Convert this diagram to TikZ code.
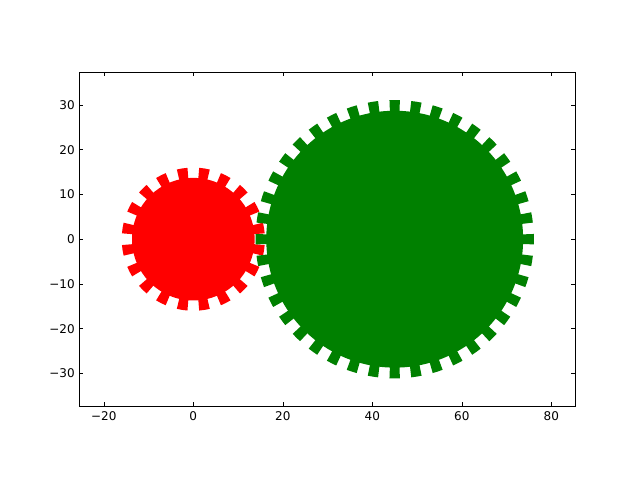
\documentclass[tikz,border=0pt]{standalone}
\usepackage{fontspec}
\setmainfont{DejaVu Sans}
\definecolor{mplred}{RGB}{255,0,0}
\definecolor{mplgreen}{RGB}{0,128,0}
\begin{document}
\begin{tikzpicture}[x=4.475pt,y=4.475pt,
  font=\fontsize{12}{14}\selectfont,
  frame/.style={line width=1pt, draw=black},
  tickmark/.style={line width=0.6pt, draw=black},
  xlab/.style={anchor=north, inner sep=0pt, yshift=-5.5pt},
  ylab/.style={anchor=east, inner sep=0pt, xshift=-4.5pt},
  redgear/.style={fill=mplred},
  greengear/.style={fill=mplgreen}]
\useasboundingbox (-43.2,-53.81) rectangle (99.82,53.45);
% red gear
\fill[redgear] (0,0) circle[radius=13.7];
\foreach \a in {9,27,...,351}{
  \fill[redgear] (\a-4.3:13.4) -- (\a-4.3:16.0) arc[start angle=\a-4.3, end angle=\a+4.3, radius=16.0]
     -- (\a+4.3:13.4) arc[start angle=\a+4.3, end angle=\a-4.3, radius=13.4] -- cycle;
}
% green gear
\begin{scope}[shift={(45,0)}]
\fill[greengear] (0,0) circle[radius=28.7];
\foreach \a in {0,9,...,351}{
  \fill[greengear] (\a-2.15:28.4) -- (\a-2.15:31.1) arc[start angle=\a-2.15, end angle=\a+2.15, radius=31.1]
     -- (\a+2.15:28.4) arc[start angle=\a+2.15, end angle=\a-2.15, radius=28.4] -- cycle;
}
\end{scope}
% axes frame
\coordinate (ll) at (-25.47,-37.3);
\coordinate (ur) at (85.36,37.3);
\draw[frame] (ll) rectangle (ur);
% x ticks
\foreach \v/\t in {-20/−20,0/0,20/20,40/40,60/60,80/80}{
  \draw[tickmark] (\v,-37.3) -- ++(0,0.894);
  \draw[tickmark] (\v,37.3) -- ++(0,-0.894);
  \node[xlab] (xl\v) at (\v,-37.3) {\t};
}
% y ticks
\foreach \v/\t in {-30/−30,-20/−20,-10/−10,0/0,10/10,20/20,30/30}{
  \draw[tickmark] (-25.47,\v) -- ++(0.894,0);
  \draw[tickmark] (85.36,\v) -- ++(-0.894,0);
  \node[ylab] (yl\v) at (-25.47,\v) {\t};
}
\end{tikzpicture}
\end{document}
